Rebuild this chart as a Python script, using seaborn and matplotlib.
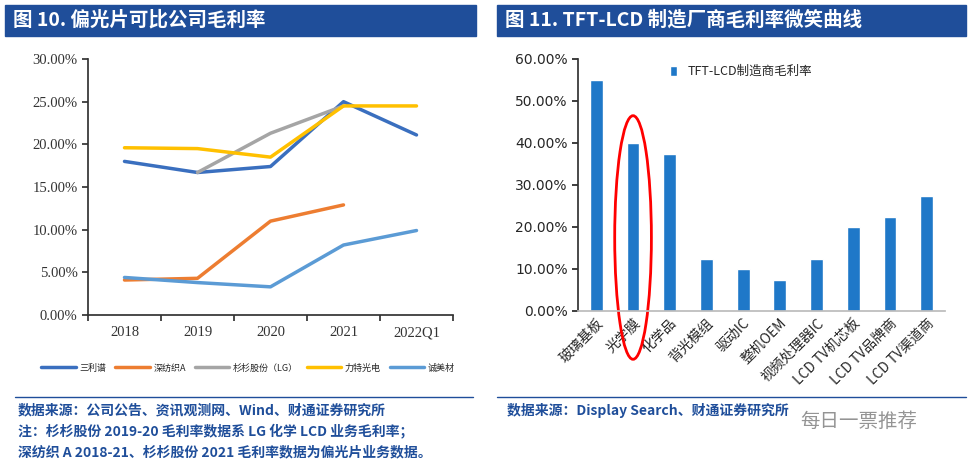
import numpy as np, pandas as pd
import matplotlib
matplotlib.use("Agg")
import matplotlib.pyplot as plt
from matplotlib.patches import Rectangle, Ellipse
import seaborn as sns

years = ["2018", "2019", "2020", "2021", "2022Q1"]
sanlipu = [18.0, 16.7, 17.4, 25.0, 21.1]
shenfangzhi = [4.1, 4.3, 11.0, 12.9, np.nan]
shanshan = [np.nan, 16.7, 21.3, 24.5, np.nan]
lite = [19.6, 19.5, 18.5, 24.5, 24.5]
chengmei = [4.4, 3.8, 3.3, 8.2, 9.9]
series_names = ["三利谱", "深纺织A", "杉杉股份（LG）", "力特光电", "诚美材"]
series_colors = ["#3A6FBF", "#ED7D31", "#A5A5A5", "#FFC000", "#5B9BD5"]

bar_cats = ["玻璃基板", "光学膜", "化学品", "背光模组", "驱动IC", "整机OEM", "视频处理器IC",
            "LCD TV机芯板", "LCD TV品牌商", "LCD TV渠道商"]
bar_vals = [55, 40, 37.5, 12.5, 10, 7.5, 12.5, 20, 22.5, 27.5]

sns.set_theme(style="white")
plt.rcParams['font.family'] = ['Noto Sans CJK SC', 'DejaVu Sans']
BLUE = "#1F4E9A"

fig = plt.figure(figsize=(9.73, 4.62), dpi=100)
W, H = 973, 462
def fx(x): return x / W
def fy(y): return 1 - y / H

for x0, x1, t in [(5, 476, "图 10. 偏光片可比公司毛利率"), (497, 966, "图 11. TFT-LCD 制造厂商毛利率微笑曲线")]:
    fig.add_artist(Rectangle((fx(x0), fy(36)), fx(x1 - x0), 31 / H, color=BLUE, transform=fig.transFigure))
    fig.text(fx(x0 + 8), fy(20), t, color="white", fontsize=14, fontweight="bold", va="center")
for x0, x1 in [(15, 473), (497, 966)]:
    fig.add_artist(plt.Line2D([fx(x0), fx(x1)], [fy(397), fy(397)], color=BLUE, lw=1, transform=fig.transFigure))

ax = fig.add_axes([fx(88), fy(315), fx(453 - 88), (315 - 59) / H])
rows = []
for n, vals in zip(series_names, [sanlipu, shenfangzhi, shanshan, lite, chengmei]):
    for i, v in enumerate(vals):
        rows.append({"x": i, "v": v, "s": n})
df = pd.DataFrame(rows)
sns.lineplot(data=df, x="x", y="v", hue="s", palette=series_colors, hue_order=series_names,
             lw=2.5, ax=ax, legend=False)
ax.set_xlim(-0.5, 4.5); ax.set_ylim(0, 30)
ax.set_yticks(np.arange(0, 31, 5))
ax.set_yticklabels([f"{v:.2f}%" for v in range(0, 31, 5)], family="Liberation Serif", fontsize=10.5, color="#333")
ax.set_xticks(np.arange(-0.5, 4.6, 1))
ax.set_xticklabels([])
ax.set_xticks(range(5), minor=True)
ax.set_xticklabels(years, minor=True, family="Liberation Serif", fontsize=10.5, color="#333")
ax.tick_params(axis="x", which="major", length=4, direction="out", bottom=True, color="#333")
ax.tick_params(axis="x", which="minor", length=0, pad=8)
ax.tick_params(axis="y", length=4, direction="out", left=True, color="#333")
ax.set_xlabel(""); ax.set_ylabel("")
for s in ["top", "right"]: ax.spines[s].set_visible(False)
for s in ["left", "bottom"]: ax.spines[s].set_color("#333")
handles = [plt.Line2D([], [], color=c, lw=2.5) for c in series_colors]
fig.legend(handles, series_names, loc="center", bbox_to_anchor=(fx(248), fy(368)), ncol=5, frameon=False,
           handlelength=3.8, columnspacing=1.0, handletextpad=0.4,
           prop={"family": ["Noto Sans CJK SC"], "size": 6.5})

ax2 = fig.add_axes([fx(578), fy(311), fx(945 - 578), (311 - 59) / H])
sns.barplot(x=bar_cats, y=bar_vals, color="#1F78C8", saturation=1, width=0.35, ax=ax2, label="TFT-LCD制造商毛利率")
ax2.set_ylim(0, 60)
ax2.set_yticks(np.arange(0, 61, 10))
ax2.set_yticklabels([f"{v:.2f}%" for v in range(0, 61, 10)], fontsize=10, family="DejaVu Sans")
ax2.set_xticks(range(len(bar_cats)))
ax2.set_xticklabels(bar_cats, rotation=45, ha="right", rotation_mode="anchor", fontsize=10)
ax2.tick_params(axis="y", length=4, direction="out", left=True)
ax2.tick_params(axis="x", length=0)
for s in ["top", "right"]: ax2.spines[s].set_visible(False)
ax2.spines["left"].set_color("#333"); ax2.spines["bottom"].set_color("#bbb")
ax2.legend(loc="upper left", bbox_to_anchor=(0.22, 1.02), frameon=False, fontsize=9,
           handlelength=0.6, handleheight=0.8)
ax2.add_patch(Ellipse((1, 17.5), 1.0, 58, fill=False, ec="red", lw=2, clip_on=False))

fig.text(fx(18), fy(410), "数据来源：公司公告、资讯观测网、Wind、财通证券研究所", color=BLUE, fontsize=10, fontweight="bold", va="center")
fig.text(fx(18), fy(431), "注：杉杉股份 2019-20 毛利率数据系 LG 化学 LCD 业务毛利率；", color=BLUE, fontsize=10, fontweight="bold", va="center")
fig.text(fx(18), fy(452), "深纺织 A 2018-21、杉杉股份 2021 毛利率数据为偏光片业务数据。", color=BLUE, fontsize=10, fontweight="bold", va="center")
fig.text(fx(507), fy(410), "数据来源：Display Search、财通证券研究所", color=BLUE, fontsize=10, fontweight="bold", va="center")
fig.text(fx(800), fy(421), "每日一票推荐", color="#888", fontsize=14, va="center", alpha=0.9)

fig.savefig("out.png", dpi=100)
